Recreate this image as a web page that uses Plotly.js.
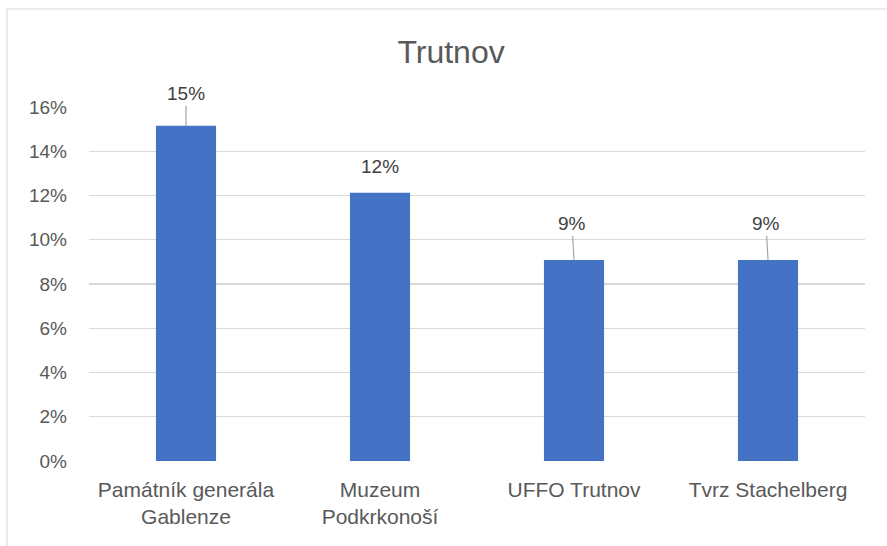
<!DOCTYPE html>
<html>
<head>
<meta charset="utf-8">
<script src="https://cdn.plot.ly/plotly-3.0.1.min.js"></script>
<style>html,body{margin:0;padding:0;background:#fff;}#chart{width:887px;height:546px;}</style>
</head>
<body>
<div id="chart"></div>
<script>
const chartTitle = "Trutnov";
const categories = ["Památník generála<br>Gablenze", "Muzeum<br>Podkrkonoší", "UFFO Trutnov", "Tvrz Stachelberg"];
const shares = [0.1515, 0.1212, 0.0909, 0.0909];
const valueLabels = ["15%", "12%", "9%", "9%"];
const yTickValues = [0, 0.02, 0.04, 0.06, 0.08, 0.10, 0.12, 0.14, 0.16];
const yTickLabels = ["0%", "2%", "4%", "6%", "8%", "10%", "12%", "14%", "16%"];

const FONT = "Liberation Sans, Arial, sans-serif";
const leader = [true, false, true, true];
const leaderDx = [0, 0, -2, -2];
const leaderDy = [-32, -26, -36, -36];

const annotations = categories.map((c, i) => ({
  x: c, y: shares[i], xref: 'x', yref: 'y',
  text: valueLabels[i], showarrow: true, arrowhead: 0, arrowwidth: 1.2,
  arrowcolor: leader[i] ? '#a6a6a6' : 'rgba(0,0,0,0)',
  ax: leaderDx[i], ay: leaderDy[i],
  font: {family: FONT, size: 19, color: '#404040'}
}));

const trace = {
  type: 'bar', x: categories, y: shares,
  marker: {color: '#4472C4'}, hoverinfo: 'skip'
};

const L = 89, R = 22, T = 107, B = 85;
const PW = 887 - L - R, PH = 546 - T - B;

const layout = {
  width: 887, height: 546,
  margin: {l: L, r: R, t: T, b: B},
  paper_bgcolor: '#ffffff', plot_bgcolor: '#ffffff',
  showlegend: false,
  bargap: 0.69,
  title: {text: chartTitle, font: {family: FONT, size: 32, color: '#595959'},
          xref: 'container', x: 0.5085, xanchor: 'center', yref: 'container', y: 0.905, yanchor: 'middle'},
  xaxis: {type: 'category', showgrid: false, zeroline: false, showline: false, ticks: '',
          ticklabelstandoff: 14,
          tickfont: {family: FONT, size: 21, color: '#595959'}, automargin: false},
  yaxis: {range: [0, 0.16], tickvals: yTickValues, ticktext: yTickLabels,
          showgrid: true, gridcolor: '#d9d9d9', gridwidth: 1.3, zeroline: false, showline: false,
          ticks: '', ticklabelstandoff: 21,
          tickfont: {family: FONT, size: 19, color: '#595959'}, automargin: false},
  annotations: annotations,
  shapes: [
    {type: 'line', xref: 'paper', yref: 'paper', x0: (7 - L) / PW, x1: 1.2, y0: (546 - B - 9) / PH, y1: (546 - B - 9) / PH,
     line: {color: '#d9d9d9', width: 1.2}},
    {type: 'line', xref: 'paper', yref: 'paper', x0: (7 - L) / PW, x1: (7 - L) / PW, y0: (546 - B - 9) / PH, y1: -0.3,
     line: {color: '#d9d9d9', width: 1.2}}
  ]
};

Plotly.newPlot('chart', [trace], layout, {displayModeBar: false, staticPlot: true});
</script>
</body>
</html>
